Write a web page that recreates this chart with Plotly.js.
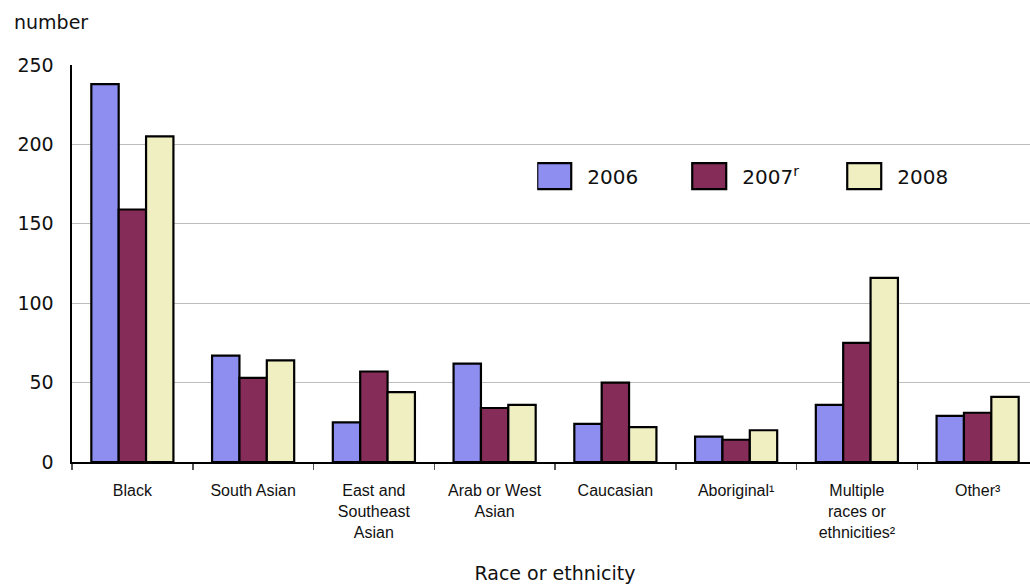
<!DOCTYPE html>
<html>
<head>
<meta charset="utf-8">
<script src="https://cdn.plot.ly/plotly-3.0.1.min.js"></script>
<style>
html,body{margin:0;padding:0;overflow:hidden;background:#fff;}
#chart{width:1045px;height:584px;}
</style>
</head>
<body>
<div id="chart"></div>
<script>
const categories = ["Black", "South Asian", "East and<br>Southeast<br>Asian", "Arab or West<br>Asian", "Caucasian", "Aboriginal¹", "Multiple<br>races or<br>ethnicities²", "Other³"];
const values2006 = [238, 67, 25, 62, 24, 16, 36, 29];
const values2007 = [159, 53, 57, 34, 50, 14, 75, 31];
const values2008 = [205, 64, 44, 36, 22, 20, 116, 41];
const seriesNames = ["2006", "2007<sup>r</sup>", "2008"];
const yTicks = [0, 50, 100, 150, 200, 250];

function barTrace(name, vals, color) {
  return {
    type: "bar", name: name, x: categories, y: vals,
    marker: {color: color, line: {color: "#000", width: 2.2}},
    hoverinfo: "x+y"
  };
}

const data = [
  barTrace(seriesNames[0], values2006, "#8e8ef0"),
  barTrace(seriesNames[1], values2007, "#862c59"),
  barTrace(seriesNames[2], values2008, "#efefc2")
];

const layout = {
  width: 1045, height: 584,
  margin: {l: 72, r: 7, t: 65, b: 122, autoexpand: false},
  paper_bgcolor: "#fff", plot_bgcolor: "#fff",
  barmode: "group", bargap: 0.32, bargroupgap: 0,
  font: {family: "DejaVu Sans, Verdana, sans-serif", color: "#111"},
  showlegend: true,
  legend: {
    orientation: "h", x: 0.4816, y: 0.72, xanchor: "left", yanchor: "middle",
    font: {size: 20, family: "DejaVu Sans, Verdana, sans-serif", color: "#111"},
    entrywidth: 100, entrywidthmode: "pixels", itemwidth: 40,
    bgcolor: "rgba(0,0,0,0)"
  },
  xaxis: {
    type: "category", tickangle: 0,
    tickson: "boundaries", ticks: "outside", ticklen: 6, tickcolor: "#555", tickwidth: 1.5,
    showline: true, linecolor: "#000", linewidth: 2,
    tickfont: {family: "Liberation Sans, Arial, sans-serif", size: 16, color: "#111"},
    ticklabelstandoff: 13,
    title: {text: "Race or ethnicity", font: {family: "DejaVu Sans, Verdana, sans-serif", size: 19, color: "#111"}, standoff: 34},
    automargin: false, fixedrange: true
  },
  yaxis: {
    range: [0, 250], tickvals: yTicks, ticktext: yTicks.map(String),
    showgrid: true, gridcolor: "#bdbdbd", gridwidth: 1.3,
    showline: true, linecolor: "#000", linewidth: 2.5,
    ticks: "", ticklabelstandoff: 12,
    tickfont: {family: "DejaVu Sans, Verdana, sans-serif", size: 19, color: "#111"},
    zeroline: false, automargin: false, fixedrange: true
  },
  annotations: [{
    text: "number", xref: "paper", yref: "paper", x: -0.062, y: 1.108,
    xanchor: "left", yanchor: "middle", showarrow: false,
    font: {family: "DejaVu Sans, Verdana, sans-serif", size: 19, color: "#111"}
  }]
};

function enlargeLegendSymbols() {
  document.querySelectorAll("#chart .legend .legendpoints path").forEach(function (p) {
    p.setAttribute("d", "M9,13H-25V-13H9Z");
  });
}

Plotly.newPlot("chart", data, layout, {displayModeBar: false, staticPlot: true}).then(enlargeLegendSymbols);
</script>
</body>
</html>
